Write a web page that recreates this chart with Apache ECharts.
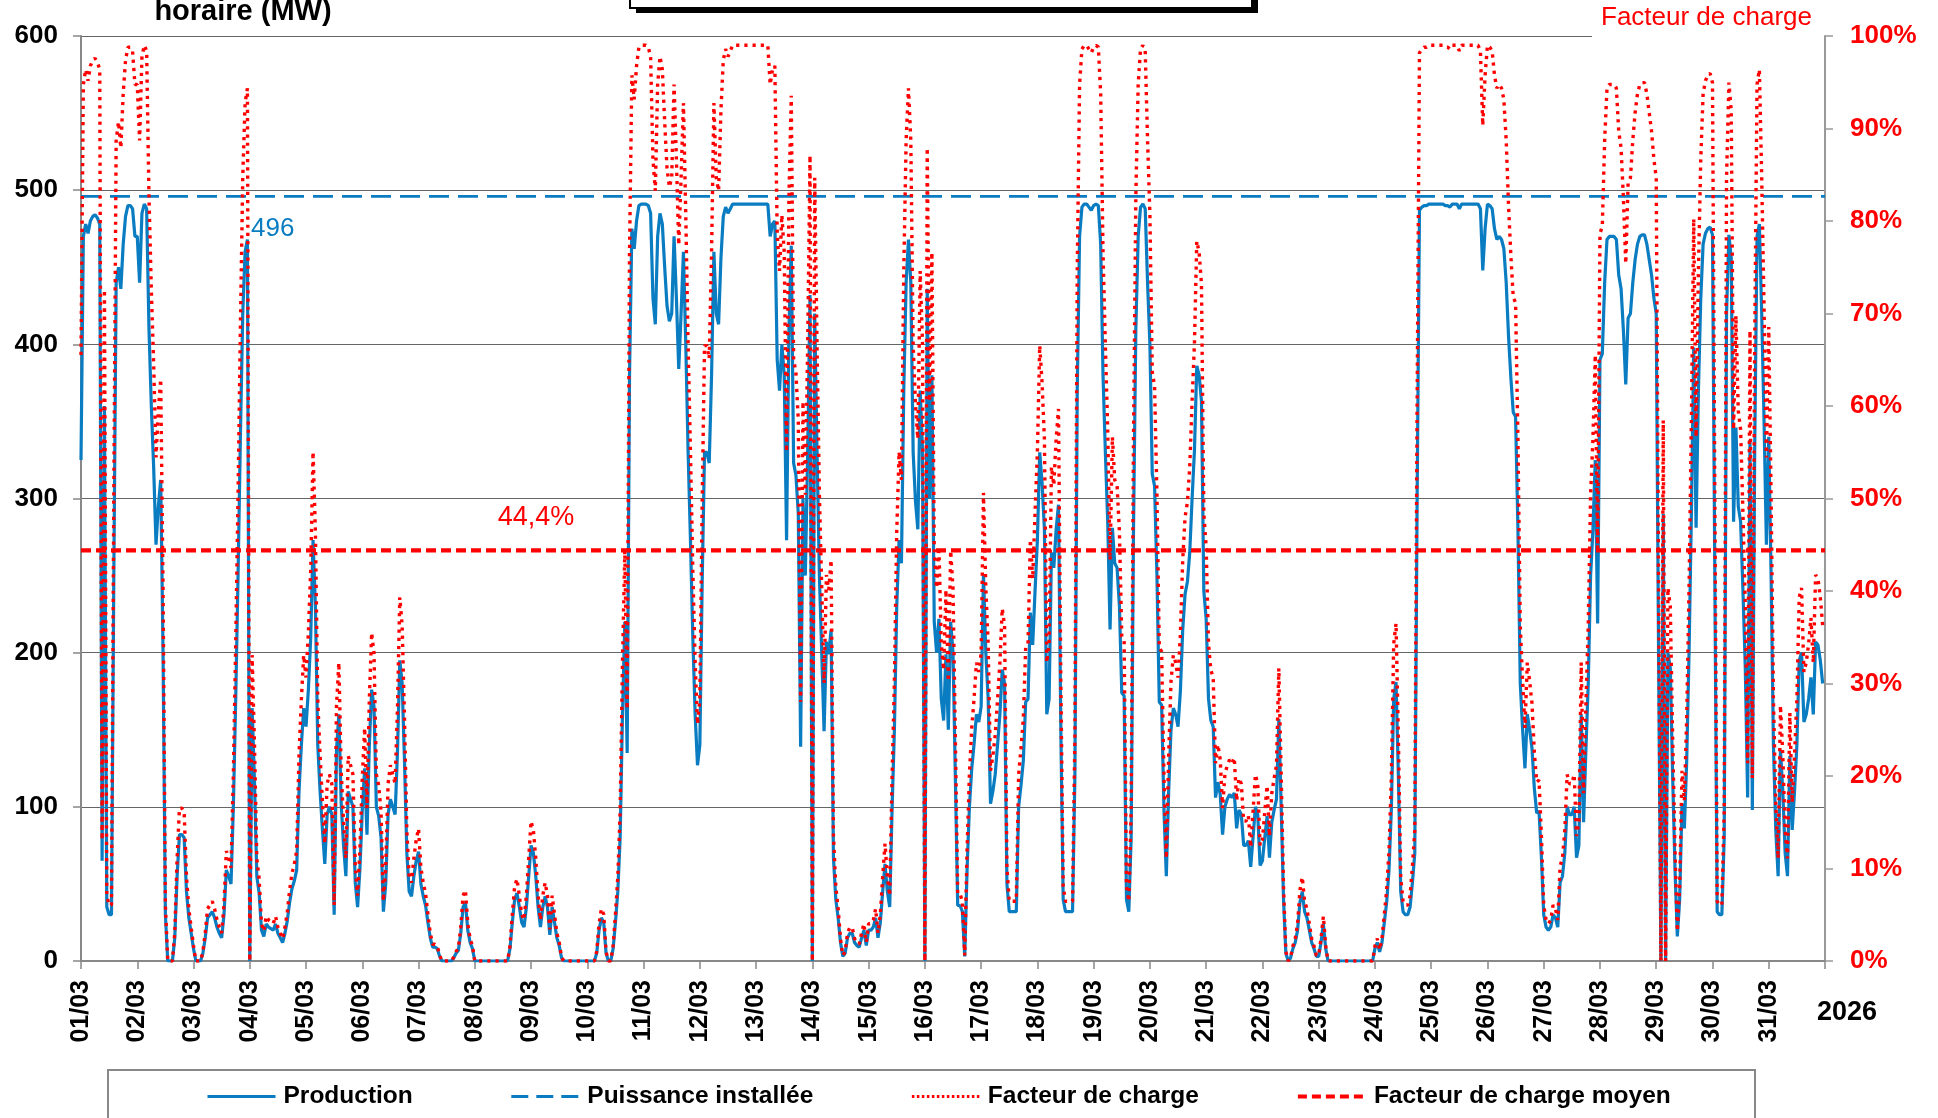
<!DOCTYPE html>
<html><head><meta charset="utf-8">
<script src="https://cdn.jsdelivr.net/npm/echarts@6/dist/echarts.min.js"></script>
<style>html,body{margin:0;padding:0;background:#fff}#c{width:1938px;height:1118px}</style>
</head><body><div id="c"></div><script>
// ---- data (hourly production, MW, March 2026) ----
const dayLabels = ['01/03','02/03','03/03','04/03','05/03','06/03','07/03','08/03','09/03','10/03','11/03','12/03','13/03','14/03','15/03','16/03','17/03','18/03','19/03','20/03','21/03','22/03','23/03','24/03','25/03','26/03','27/03','28/03','29/03','30/03','31/03'];
const d01 = [325,470,478,472,480,483,484,482,478,65,360,35,30,30,250,440,450,436,465,483,490,490,488,470];
const d02 = [470,440,485,491,488,410,360,320,270,295,312,200,30,0,0,0,15,55,82,82,80,45,28,18];
const d03 = [8,0,0,0,5,15,28,30,32,28,22,18,15,30,59,55,50,100,170,250,340,420,460,468];
const d04 = [0,164,117,55,44,20,16,24,22,21,20,24,18,15,12,18,26,38,47,52,59,110,140,164];
const d05 = [152,176,210,273,230,140,110,85,63,95,100,95,30,137,160,102,75,55,110,105,100,51,35,60];
const d06 = [98,125,82,140,176,165,100,94,80,32,50,95,105,100,95,135,195,180,130,70,45,42,55,65];
const d07 = [71,50,42,36,25,15,9,9,8,3,0,0,0,0,0,2,5,7,18,35,38,20,12,8];
const d08 = [0,0,0,0,0,0,0,0,0,0,0,0,0,0,0,8,25,40,44,35,25,22,35,55];
const d09 = [75,70,55,35,22,35,42,35,17,35,25,15,10,2,0,0,0,0,0,0,0,0,0,0];
const d10 = [0,0,0,0,5,20,28,25,5,0,0,8,25,45,80,160,220,135,380,475,462,480,490,491];
const d11 = [491,491,490,485,430,413,470,485,478,450,425,415,420,470,430,384,420,460,400,330,273,210,160,127];
const d12 = [140,246,330,330,323,380,460,420,413,456,483,489,485,488,491,491,491,491,491,491,491,491,491,491];
const d13 = [491,491,491,491,491,491,470,478,480,390,370,400,380,273,409,464,323,315,290,139,300,250,330,432];
const d14 = [0,420,330,250,200,149,207,199,215,67,40,28,12,3,5,15,18,18,12,10,9,15,20,10];
const d15 = [20,20,22,28,15,25,45,63,45,35,98,150,230,273,258,370,440,468,440,330,298,280,370,331];
const d16 = [0,436,300,380,220,200,222,170,156,199,150,220,200,120,36,36,32,3,59,100,125,141,160,155];
const d17 = [165,251,200,170,102,110,121,140,160,189,180,50,32,32,32,32,100,114,130,168,170,226,205,240];
const d18 = [273,330,310,280,160,170,265,255,280,296,150,40,32,32,32,32,120,370,470,489,491,491,489,487];
const d19 = [490,491,490,465,380,330,285,215,281,258,255,230,174,172,40,32,80,280,410,470,489,491,488,440];
const d20 = [400,316,308,250,168,166,98,55,110,150,164,160,152,175,215,238,246,265,300,331,386,380,363,240];
const d21 = [222,170,156,152,106,116,108,82,100,105,108,106,109,86,98,95,75,75,78,61,80,100,95,62];
const d22 = [65,80,94,67,90,98,105,157,100,40,5,0,2,8,12,20,38,45,32,28,20,12,8,3];
const d23 = [3,12,24,8,0,0,0,0,0,0,0,0,0,0,0,0,0,0,0,0,0,0,0,0];
const d24 = [8,12,6,12,25,38,59,98,170,181,120,45,32,30,30,35,51,70,300,487,489,490,490,491];
const d25 = [491,491,491,491,491,491,490,490,489,491,491,491,488,491,491,491,491,491,491,491,491,488,448,475];
const d26 = [491,490,488,475,468,470,468,462,440,405,378,356,353,280,180,150,125,160,150,138,112,96,97,68];
const d27 = [30,22,20,22,30,28,22,51,55,70,100,95,95,100,67,75,160,90,137,180,250,280,325,219];
const d28 = [390,394,440,468,470,470,470,468,445,436,409,374,417,420,440,455,465,470,471,471,465,455,445,430];
const d29 = [420,200,0,290,0,200,190,120,60,16,40,102,86,130,200,290,398,281,370,430,465,472,475,476];
const d30 = [471,250,32,30,30,80,420,471,456,285,346,295,285,240,190,106,338,98,330,470,478,420,350,270];
const d31 = [340,250,140,85,55,137,110,70,55,133,85,110,140,195,200,155,160,170,184,160,207,205,195,180];
const installedCapacity = 496;   // MW
const meanFactor = 44.4;         // %
const yearLabel = '2026';

// ---- build ----
const production = [].concat(d01,d02,d03,d04,d05,d06,d07,d08,d09,d10,d11,d12,d13,d14,d15,d16,d17,d18,d19,d20,d21,d22,d23,d24,d25,d26,d27,d28,d29,d30,d31);
const nHours = dayLabels.length * 24;
const prodData = production.map((v, i) => [i, v]);
const factorData = production.map((v, i) => [i, v / installedCapacity * 100]);
const capData = [[0, installedCapacity], [nHours, installedCapacity]];
const meanData = [[0, meanFactor], [nHours, meanFactor]];

const FONT = "'Liberation Sans', Arial, sans-serif";
const BLUE = '#0A7CC1';
const RED = '#FF0000';
const HIDDEN_SYMBOL = {opacity: 0, color: 'rgba(0,0,0,0)', borderWidth: 0};

const chart = echarts.init(document.getElementById('c'), null, {renderer: 'canvas'});
chart.setOption({
  animation: false,
  backgroundColor: '#fff',
  grid: {left: 81, right: 113, top: 36, bottom: 157},
  xAxis: {
    type: 'value', min: 0, max: nHours, interval: 24,
    axisLine: {show: true, lineStyle: {color: '#888', width: 2}},
    axisTick: {show: true, length: 8, lineStyle: {color: '#888', width: 1.5}},
    axisLabel: {
      rotate: 90, margin: 19, fontSize: 25, fontWeight: 'bold', color: '#000', fontFamily: FONT,
      formatter: v => { const i = Math.round(v / 24); return i < dayLabels.length ? dayLabels[i] : ''; }
    },
    splitLine: {show: false}
  },
  yAxis: [
    {
      type: 'value', min: 0, max: 600, interval: 100, position: 'left',
      axisLine: {show: true, lineStyle: {color: '#888', width: 2}},
      axisTick: {show: true, length: 8, lineStyle: {color: '#888', width: 1.5}},
      axisLabel: {margin: 23, fontSize: 26, fontWeight: 'bold', color: '#000', fontFamily: FONT},
      splitLine: {show: true, lineStyle: {color: '#666', width: 1}}
    },
    {
      type: 'value', min: 0, max: 100, interval: 10, position: 'right',
      axisLine: {show: true, lineStyle: {color: '#999', width: 2}},
      axisTick: {show: true, length: 8, lineStyle: {color: '#999', width: 1.5}},
      axisLabel: {margin: 25, fontSize: 26, fontWeight: 'bold', color: RED, fontFamily: FONT, formatter: '{value}%'},
      splitLine: {show: false}
    }
  ],
  legend: {
    left: 206, top: 1084, itemWidth: 68, itemHeight: 24, itemGap: 97, padding: 0,
    textStyle: {fontSize: 24.5, fontWeight: 'bold', color: '#000', fontFamily: FONT, padding: [0, 0, 0, 3]},
    itemStyle: HIDDEN_SYMBOL,
    data: [
      {name: 'Production', itemStyle: HIDDEN_SYMBOL, lineStyle: {width: 3}},
      {name: 'Puissance installée', itemStyle: HIDDEN_SYMBOL, lineStyle: {width: 3, type: [17, 8]}},
      {name: 'Facteur de charge', itemStyle: HIDDEN_SYMBOL, lineStyle: {width: 3, type: [2.5, 2.5]}},
      {name: 'Facteur de charge moyen', itemStyle: HIDDEN_SYMBOL, lineStyle: {width: 4, type: [9, 5]}}
    ]
  },
  series: [
    {
      name: 'Production', type: 'line', yAxisIndex: 0, data: prodData, symbol: 'none', z: 2,
      lineStyle: {color: BLUE, width: 3.2}, itemStyle: {color: BLUE}
    },
    {
      name: 'Puissance installée', type: 'line', yAxisIndex: 0, data: capData, symbol: 'none', z: 2,
      lineStyle: {color: BLUE, width: 2.6, type: [20, 9]}, itemStyle: {color: BLUE}
    },
    {
      name: 'Facteur de charge', type: 'line', yAxisIndex: 1, data: factorData, symbol: 'none', z: 3,
      lineStyle: {color: RED, width: 3.4, type: [3.2, 5]}, itemStyle: {color: RED}
    },
    {
      name: 'Facteur de charge moyen', type: 'line', yAxisIndex: 1, data: meanData, symbol: 'none', z: 4,
      lineStyle: {color: RED, width: 4.2, type: [10, 5]}, itemStyle: {color: RED}
    }
  ],
  graphic: [
    // partially visible title box at top
    {type: 'rect', z: 5, shape: {x: 636, y: -10, width: 622, height: 23}, style: {fill: '#000'}},
    {type: 'rect', z: 6, shape: {x: 630, y: -10, width: 622, height: 18}, style: {fill: '#fff', stroke: '#000', lineWidth: 2}},
    // left axis title (partly cut)
    {type: 'text', z: 6, x: 243, y: 12, style: {text: 'horaire (MW)', fill: '#000', fontSize: 29, fontWeight: 'bold', fontFamily: FONT, align: 'center', verticalAlign: 'middle'}},
    // right axis title with white box over the top gridline
    {type: 'text', z: 1, x: 1592, y: 18, style: {text: 'Facteur de charge', fill: RED, fontSize: 26, fontFamily: FONT, align: 'left', verticalAlign: 'middle', backgroundColor: '#fff', padding: [5, 12, 8, 9]}},
    // installed capacity label
    {type: 'text', z: 6, x: 251, y: 229, style: {text: String(installedCapacity), fill: BLUE, fontSize: 26, fontFamily: FONT, align: 'left', verticalAlign: 'middle'}},
    // mean factor label
    {type: 'text', z: 1, x: 536, y: 518, style: {text: String(meanFactor).replace('.', ',') + '%', fill: RED, fontSize: 27, fontFamily: FONT, align: 'center', verticalAlign: 'middle', backgroundColor: '#fff', padding: [7, 9, 4, 9]}},
    // year label
    {type: 'text', z: 6, x: 1847, y: 1013, style: {text: yearLabel, fill: '#000', fontSize: 27, fontWeight: 'bold', fontFamily: FONT, align: 'center', verticalAlign: 'middle'}},
    // legend frame
    {type: 'rect', z: 0, shape: {x: 108, y: 1070, width: 1647, height: 100}, style: {fill: 'none', stroke: '#888', lineWidth: 2}}
  ]
});
</script></body></html>
